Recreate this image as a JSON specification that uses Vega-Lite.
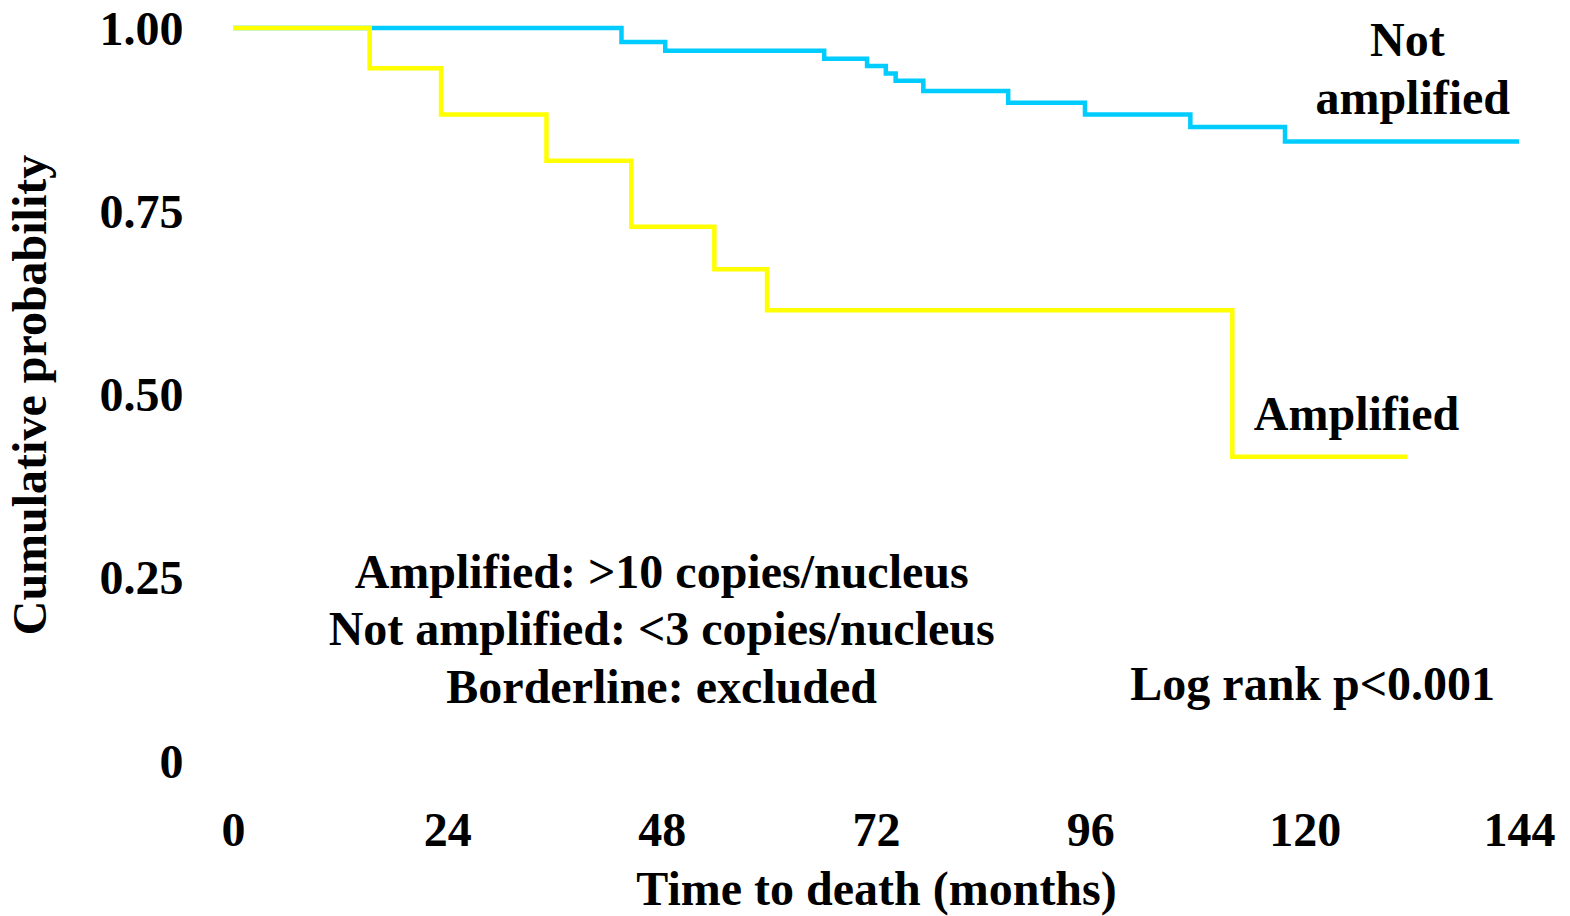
{
  "$schema": "https://vega.github.io/schema/vega-lite/v6.json",
  "autosize": "none",
  "width": 1286,
  "height": 733,
  "padding": {"left": 233, "top": 28, "right": 51, "bottom": 155},
  "background": "white",
  "config": {
    "view": {"stroke": null},
    "font": "Liberation Serif",
    "axis": {"labelFont": "Liberation Serif", "titleFont": "Liberation Serif", "labelFontWeight": "bold", "titleFontWeight": "bold", "labelFontSize": 48, "titleFontSize": 48, "labelColor": "black", "titleColor": "black", "grid": false, "domain": false, "ticks": false}
  },
  "datasets": {
    "curves": [
      {"group": "Not amplified", "month": 0, "prob": 1.0},
      {"group": "Not amplified", "month": 43.5, "prob": 0.981},
      {"group": "Not amplified", "month": 48.4, "prob": 0.969},
      {"group": "Not amplified", "month": 66.2, "prob": 0.958},
      {"group": "Not amplified", "month": 71.0, "prob": 0.948},
      {"group": "Not amplified", "month": 73.1, "prob": 0.938},
      {"group": "Not amplified", "month": 74.2, "prob": 0.928},
      {"group": "Not amplified", "month": 77.3, "prob": 0.914},
      {"group": "Not amplified", "month": 86.8, "prob": 0.898},
      {"group": "Not amplified", "month": 95.4, "prob": 0.882},
      {"group": "Not amplified", "month": 107.2, "prob": 0.865},
      {"group": "Not amplified", "month": 117.8, "prob": 0.845},
      {"group": "Not amplified", "month": 144, "prob": 0.845},
      {"group": "Amplified", "month": 0, "prob": 1.0},
      {"group": "Amplified", "month": 15.3, "prob": 0.945},
      {"group": "Amplified", "month": 23.3, "prob": 0.882},
      {"group": "Amplified", "month": 35.1, "prob": 0.819},
      {"group": "Amplified", "month": 44.6, "prob": 0.729},
      {"group": "Amplified", "month": 53.9, "prob": 0.671},
      {"group": "Amplified", "month": 59.8, "prob": 0.615},
      {"group": "Amplified", "month": 111.9, "prob": 0.415},
      {"group": "Amplified", "month": 131.5, "prob": 0.415}
    ],
    "labels": [
      {"text": "Not", "month": 131.5, "prob": 0.962},
      {"text": "amplified", "month": 132.1, "prob": 0.883},
      {"text": "Amplified", "month": 125.8, "prob": 0.4516},
      {"text": "Amplified: >10 copies/nucleus", "month": 48.0, "prob": 0.236},
      {"text": "Not amplified: <3 copies/nucleus", "month": 48.0, "prob": 0.158},
      {"text": "Borderline: excluded", "month": 48.0, "prob": 0.079},
      {"text": "Log rank p<0.001", "month": 120.9, "prob": 0.083}
    ]
  },
  "layer": [
    {
      "data": {"name": "curves"},
      "transform": [{"filter": "datum.group === 'Not amplified'"}],
      "mark": {"type": "line", "interpolate": "step-after", "strokeWidth": 4.5, "color": "#00CCFF", "clip": false},
      "encoding": {
        "x": {"field": "month", "type": "quantitative", "scale": {"domain": [0, 144], "nice": false}, "axis": {"values": [0, 24, 48, 72, 96, 120, 144], "title": "Time to death (months)", "labelPadding": 46, "labelFlush": false, "labelOverlap": false, "titleY": 143, "titleBaseline": "alphabetic"}},
        "y": {"field": "prob", "type": "quantitative", "scale": {"domain": [0, 1], "nice": false}, "axis": {"values": [0, 0.25, 0.5, 0.75, 1], "labelExpr": "datum.value == 0 ? '0' : format(datum.value, '.2f')", "title": "Cumulative probability", "labelPadding": 50, "labelOffset": 2, "labelFlush": false, "labelOverlap": false, "titleX": -188, "titleBaseline": "alphabetic"}}
      }
    },
    {
      "data": {"name": "curves"},
      "transform": [{"filter": "datum.group === 'Amplified'"}],
      "mark": {"type": "line", "interpolate": "step-after", "strokeWidth": 4.5, "color": "#FFFF00", "clip": false},
      "encoding": {
        "x": {"field": "month", "type": "quantitative"},
        "y": {"field": "prob", "type": "quantitative"}
      }
    },
    {
      "data": {"name": "labels"},
      "mark": {"type": "text", "font": "Liberation Serif", "fontWeight": "bold", "fontSize": 48, "align": "center", "baseline": "alphabetic", "color": "black"},
      "encoding": {
        "x": {"field": "month", "type": "quantitative"},
        "y": {"field": "prob", "type": "quantitative"},
        "text": {"field": "text"}
      }
    }
  ]
}
